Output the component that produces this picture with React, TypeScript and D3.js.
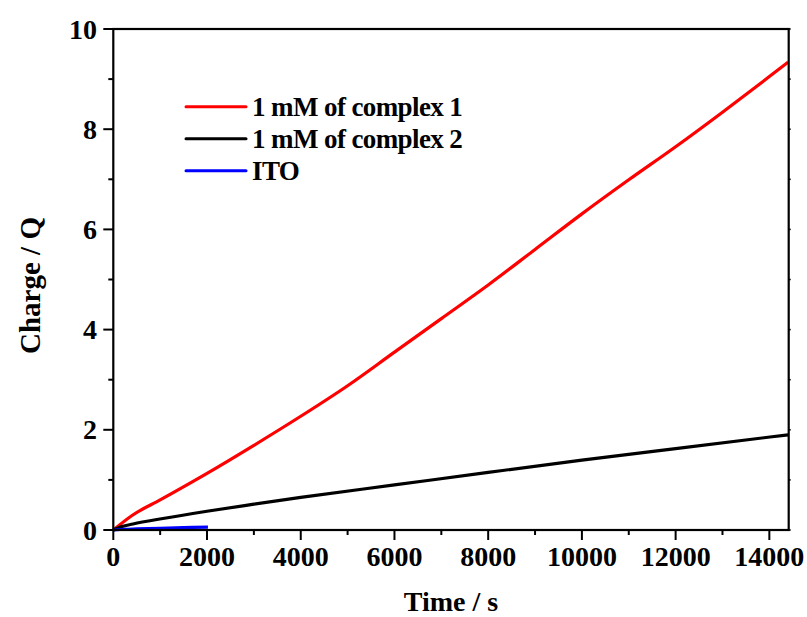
import React from "react";
import * as d3 from "d3";

// Charge vs time for the chronocoulometry runs
const timeComplex1 = [0, 400, 1000, 2000, 3000, 4000, 5000, 6000, 7000, 8000, 9000, 10000, 11000, 12000, 13000, 14000, 14400];
const chargeComplex1 = [0, 0.29, 0.6, 1.13, 1.69, 2.27, 2.88, 3.55, 4.22, 4.89, 5.6, 6.31, 6.99, 7.65, 8.34, 9.05, 9.34];

const timeComplex2 = [0, 150, 420, 1060, 2000, 3000, 4000, 6000, 8000, 10000, 12000, 14400];
const chargeComplex2 = [0, 0.06, 0.12, 0.23, 0.375, 0.515, 0.65, 0.9, 1.15, 1.395, 1.626, 1.9];

const timeITO = [0, 250, 500, 1000, 1500, 2020];
const chargeITO = [0, 0.015, 0.022, 0.035, 0.047, 0.058];

const seriesNames = ["1 mM of complex 1", "1 mM of complex 2", "ITO"];
const seriesColors = ["#ff0000", "#000000", "#0000ff"];

const xTicks = [0, 2000, 4000, 6000, 8000, 10000, 12000, 14000];
const xMinorTicks = [1000, 3000, 5000, 7000, 9000, 11000, 13000];
const yTicks = [0, 2, 4, 6, 8, 10];
const yMinorTicks = [1, 3, 5, 7, 9];

const W = 807;
const H = 617;
const left = 113.3;
const right = 788.7;
const top = 29;
const bottom = 530;

export default function App() {
  const x = d3.scaleLinear().domain([0, 14413]).range([left, right]);
  const y = d3.scaleLinear().domain([0, 10]).range([bottom, top]);
  const line = d3
    .line<[number, number]>()
    .x((d) => x(d[0]))
    .y((d) => y(d[1]))
    .curve(d3.curveMonotoneX);

  const series = [
    timeComplex1.map((t, i) => [t, chargeComplex1[i]] as [number, number]),
    timeComplex2.map((t, i) => [t, chargeComplex2[i]] as [number, number]),
    timeITO.map((t, i) => [t, chargeITO[i]] as [number, number]),
  ];

  const font = "'Liberation Serif', 'Times New Roman', serif";

  return (
    <svg
      width={W}
      height={H}
      style={{ position: "absolute", left: 0, top: 0, background: "#fff" }}
      fontFamily={font}
      fontWeight="bold"
    >
      {/* data */}
      {series.map((s, i) => (
        <path
          key={i}
          d={line(s) || ""}
          fill="none"
          stroke={seriesColors[i]}
          strokeWidth={3.2}
          strokeLinejoin="round"
        />
      ))}

      {/* frame */}
      <rect
        x={left}
        y={top}
        width={right - left}
        height={bottom - top}
        fill="none"
        stroke="#000"
        strokeWidth={2.2}
      />

      {/* x axis ticks */}
      {xTicks.map((t) => (
        <g key={"xt" + t}>
          <line x1={x(t)} x2={x(t)} y1={bottom} y2={bottom + 10} stroke="#000" strokeWidth={2} />
          <text x={x(t)} y={566} textAnchor="middle" fontSize={28}>
            {t}
          </text>
        </g>
      ))}
      {xMinorTicks.map((t) => (
        <line key={"xm" + t} x1={x(t)} x2={x(t)} y1={bottom} y2={bottom + 5} stroke="#000" strokeWidth={2} />
      ))}

      {/* y axis ticks */}
      {yTicks.map((t) => (
        <g key={"yt" + t}>
          <line x1={left - 10} x2={left} y1={y(t)} y2={y(t)} stroke="#000" strokeWidth={2} />
          <line x1={right} x2={right + 2} y1={y(t)} y2={y(t)} stroke="#000" strokeWidth={1.5} />
          <text x={97} y={y(t)} dy="0.34em" textAnchor="end" fontSize={28}>
            {t}
          </text>
        </g>
      ))}
      {yMinorTicks.map((t) => (
        <g key={"ym" + t}>
          <line x1={left - 5} x2={left} y1={y(t)} y2={y(t)} stroke="#000" strokeWidth={2} />
          <line x1={right} x2={right + 2} y1={y(t)} y2={y(t)} stroke="#000" strokeWidth={1.5} />
        </g>
      ))}

      {/* axis titles */}
      <text x={451} y={611} textAnchor="middle" fontSize={28}>
        Time / s
      </text>
      <text
        transform={`translate(40, ${(top + bottom) / 2 + 6}) rotate(-90)`}
        textAnchor="middle"
        fontSize={29}
      >
        Charge / Q
      </text>

      {/* legend */}
      {seriesNames.map((name, i) => {
        const ly = 106.7 + i * 32;
        return (
          <g key={name}>
            <line x1={186} x2={246} y1={ly} y2={ly} stroke={seriesColors[i]} strokeWidth={3} strokeLinecap="round" />
            <text x={252} y={ly} dy="0.34em" fontSize={27} letterSpacing={-0.6}>
              {name}
            </text>
          </g>
        );
      })}
    </svg>
  );
}
